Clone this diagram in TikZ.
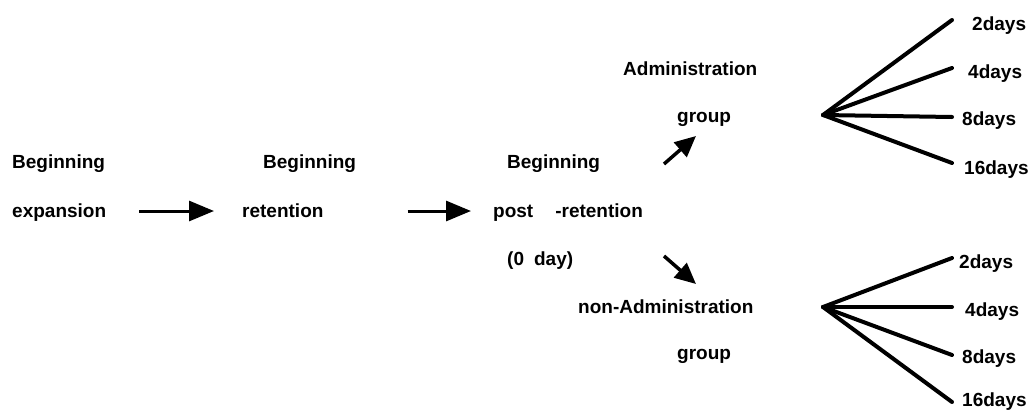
\documentclass[tikz,border=0pt]{standalone}
\usepackage{fontspec}
\setmainfont{Liberation Sans}
\usetikzlibrary{arrows.meta,calc}
\begin{document}
\begin{tikzpicture}[x=1pt,y=-1pt,
  lbl/.style={anchor=base west,inner sep=0pt,font=\fontsize{19}{21}\selectfont\bfseries},
  bigarrow/.style={line width=3pt,-{Triangle[length=25pt,width=20pt]}},
  smallarrow/.style={line width=3.5pt,-{Triangle[length=21pt,width=19pt]}},
  fan/.style={line width=4pt,line cap=round}]
\useasboundingbox (0,0) rectangle (1035,410);
% left column
\node[lbl] (b1) at (12,168) {Beginning};
\node[lbl] (exp) at (12,217) {expansion};
\node[lbl] (b2) at (263,168) {Beginning};
\node[lbl] (ret) at (242,217) {retention};
\node[lbl] (b3) at (507,168) {Beginning};
\node[lbl] (post) at (493,217) {post\hspace{22pt}-retention};
\node[lbl] (day0) at (507,265) {(0\hspace{10pt}day)};
% groups
\node[lbl] (adm) at (623,75) {Administration};
\node[lbl] (g1) at (677,122) {group};
\node[lbl] (nadm) at (578,313) {non-Administration};
\node[lbl] (g2) at (677,359) {group};
% fan origins
\coordinate (f1) at (823,115);
\coordinate (f2) at (823,307);
% day labels
\node[lbl] (t2) at (972,30) {2days};
\node[lbl] (t4) at (968,78) {4days};
\node[lbl] (t8) at (962,125) {8days};
\node[lbl] (t16) at (964,174) {16days};
\node[lbl] (u2) at (959,268) {2days};
\node[lbl] (u4) at (965,316) {4days};
\node[lbl] (u8) at (962,363) {8days};
\node[lbl] (u16) at (962,406) {16days};
% main arrows
\draw[bigarrow] ($(exp.base east)+(33,-6)$) -- ($(ret.base west)+(-28,-6)$);
\draw[bigarrow] ($(ret.base east)+(84,-6)$) -- ($(post.base west)+(-22,-6)$);
% branch arrows
\coordinate (ua) at (664,164);
\coordinate (ub) at (696,136);
\coordinate (da) at (664,256);
\coordinate (db) at (696,284);
\draw[smallarrow] (ua) -- (ub);
\draw[smallarrow] (da) -- (db);
% fans
\draw[fan] (f1) -- (952,20);
\draw[fan] (f1) -- (952,68);
\draw[fan] (f1) -- (952,117);
\draw[fan] (f1) -- (952,163);
\draw[fan] (f2) -- (952,258);
\draw[fan] (f2) -- (952,307);
\draw[fan] (f2) -- (952,355);
\draw[fan] (f2) -- (952,402);
\end{tikzpicture}
\end{document}
